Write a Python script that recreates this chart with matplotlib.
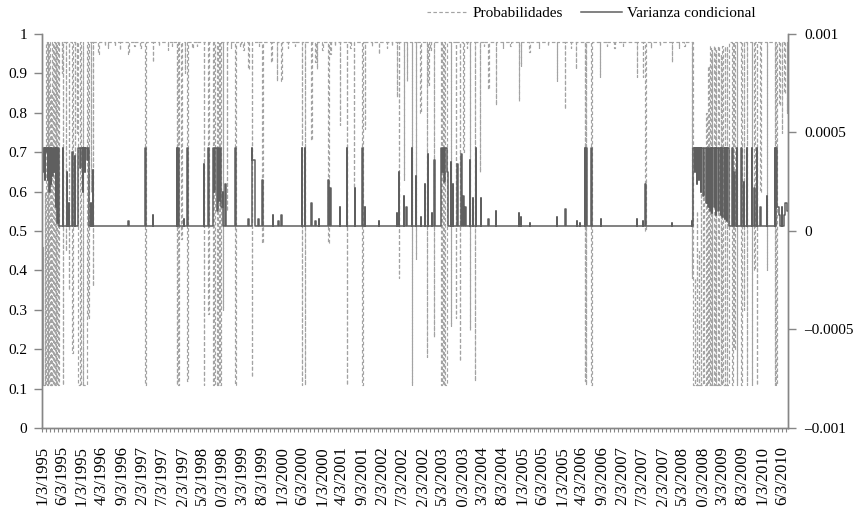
import matplotlib

matplotlib.use("Agg")
import matplotlib.dates as mdates
import pandas as pd
from matplotlib import pyplot as plt

# varianza base (regimen de baja volatilidad)
B = 2.6e-5

# probabilidad de estar en el regimen de baja volatilidad (cambios de nivel)
probabilidades = [
    ("1995-01-03", 0.11), ("1995-01-11", 0.46), ("1995-01-14", 0.11), ("1995-01-23", 0.60),
    ("1995-01-25", 0.11), ("1995-02-06", 0.98), ("1995-02-09", 0.11), ("1995-02-17", 0.98),
    ("1995-02-20", 0.11), ("1995-02-28", 0.98), ("1995-03-03", 0.11), ("1995-03-11", 0.85),
    ("1995-03-14", 0.11), ("1995-03-23", 0.98), ("1995-03-25", 0.11), ("1995-04-06", 0.98),
    ("1995-04-09", 0.11), ("1995-04-17", 0.98), ("1995-04-20", 0.11), ("1995-04-28", 0.98),
    ("1995-05-03", 0.11), ("1995-05-11", 0.98), ("1995-06-03", 0.90), ("1995-06-06", 0.98),
    ("1995-06-11", 0.11), ("1995-06-14", 0.98), ("1995-07-03", 0.45), ("1995-07-06", 0.98),
    ("1995-07-25", 0.35), ("1995-07-28", 0.98), ("1995-08-23", 0.19), ("1995-08-25", 0.98),
    ("1995-09-10", 0.55), ("1995-09-13", 0.98), ("1995-09-23", 0.75), ("1995-09-25", 0.98),
    ("1995-10-06", 0.11), ("1995-10-20", 0.98), ("1995-10-23", 0.11), ("1995-11-09", 0.98),
    ("1995-11-11", 0.11), ("1995-12-09", 0.98), ("1995-12-20", 0.28), ("1995-12-23", 0.98),
    ("1996-01-09", 0.60), ("1996-01-11", 0.98), ("1996-01-25", 0.36), ("1996-01-28", 0.98),
    ("1996-03-06", 0.95), ("1996-03-09", 0.98), ("1996-04-25", 0.97), ("1996-04-28", 0.98),
    ("1996-10-20", 0.95), ("1996-10-23", 0.98), ("1997-02-28", 0.11), ("1997-03-03", 0.98),
    ("1997-04-25", 0.93), ("1997-04-28", 0.98), ("1997-10-23", 0.11), ("1997-10-25", 0.98),
    ("1997-11-06", 0.11), ("1997-11-09", 0.98), ("1997-11-28", 0.48), ("1997-12-03", 0.98),
    ("1997-12-23", 0.90), ("1997-12-25", 0.98), ("1998-01-11", 0.12), ("1998-01-14", 0.98),
    ("1998-05-17", 0.11), ("1998-05-20", 0.98), ("1998-06-20", 0.29), ("1998-06-23", 0.98),
    ("1998-07-28", 0.11), ("1998-08-03", 0.98), ("1998-08-14", 0.11), ("1998-08-28", 0.98),
    ("1998-09-06", 0.11), ("1998-09-11", 0.98), ("1998-09-20", 0.11), ("1998-09-25", 0.98),
    ("1998-10-09", 0.30), ("1998-10-11", 0.98), ("1998-11-09", 0.55), ("1998-11-11", 0.98),
    ("1999-01-14", 0.11), ("1999-01-17", 0.98), ("1999-04-20", 0.91), ("1999-04-23", 0.98),
    ("1999-05-20", 0.13), ("1999-05-23", 0.98), ("1999-08-06", 0.47), ("1999-08-09", 0.98),
    ("1999-10-14", 0.93), ("1999-10-17", 0.98), ("1999-11-23", 0.88), ("1999-11-25", 0.98),
    ("1999-12-28", 0.88), ("2000-01-03", 0.98), ("2000-06-03", 0.11), ("2000-06-06", 0.98),
    ("2000-06-25", 0.11), ("2000-06-28", 0.98), ("2000-08-14", 0.73), ("2000-08-17", 0.98),
    ("2000-09-11", 0.93), ("2000-09-14", 0.98), ("2000-09-25", 0.91), ("2000-09-28", 0.98),
    ("2000-12-20", 0.47), ("2000-12-23", 0.98), ("2001-01-03", 0.95), ("2001-01-06", 0.98),
    ("2001-03-17", 0.77), ("2001-03-20", 0.98), ("2001-05-09", 0.11), ("2001-05-11", 0.98),
    ("2001-07-03", 0.61), ("2001-07-06", 0.98), ("2001-09-06", 0.11), ("2001-09-09", 0.98),
    ("2001-09-25", 0.76), ("2001-09-28", 0.98), ("2002-01-06", 0.95), ("2002-01-09", 0.98),
    ("2002-05-23", 0.84), ("2002-05-25", 0.98), ("2002-06-11", 0.38), ("2002-06-14", 0.98),
    ("2002-07-17", 0.63), ("2002-07-20", 0.98), ("2002-08-09", 0.88), ("2002-08-11", 0.98),
    ("2002-09-14", 0.11), ("2002-09-17", 0.98), ("2002-10-17", 0.43), ("2002-10-20", 0.98),
    ("2002-11-20", 0.80), ("2002-11-23", 0.98), ("2003-01-09", 0.18), ("2003-01-11", 0.98),
    ("2003-01-20", 0.87), ("2003-01-23", 0.98), ("2003-03-03", 0.23), ("2003-03-06", 0.98),
    ("2003-04-28", 0.11), ("2003-05-06", 0.98), ("2003-05-11", 0.11), ("2003-05-20", 0.98),
    ("2003-05-25", 0.11), ("2003-06-09", 0.98), ("2003-07-09", 0.26), ("2003-07-11", 0.98),
    ("2003-08-17", 0.28), ("2003-08-20", 0.98), ("2003-09-17", 0.17), ("2003-09-20", 0.98),
    ("2003-10-14", 0.70), ("2003-10-17", 0.98), ("2003-12-03", 0.25), ("2003-12-06", 0.98),
    ("2004-01-09", 0.12), ("2004-01-11", 0.98), ("2004-02-17", 0.65), ("2004-02-20", 0.98),
    ("2004-04-20", 0.86), ("2004-04-23", 0.98), ("2004-06-17", 0.82), ("2004-06-20", 0.98),
    ("2004-12-06", 0.83), ("2004-12-09", 0.98), ("2004-12-23", 0.92), ("2004-12-25", 0.98),
    ("2005-02-25", 0.955), ("2005-02-28", 0.98), ("2005-09-23", 0.88), ("2005-09-25", 0.98),
    ("2005-11-25", 0.81), ("2005-11-28", 0.98), ("2006-02-17", 0.91), ("2006-02-20", 0.98),
    ("2006-04-23", 0.12), ("2006-04-25", 0.98), ("2006-05-03", 0.11), ("2006-05-06", 0.98),
    ("2006-06-14", 0.11), ("2006-06-17", 0.98), ("2006-08-17", 0.89), ("2006-08-20", 0.98),
    ("2007-05-23", 0.89), ("2007-05-25", 0.98), ("2007-07-09", 0.89), ("2007-07-11", 0.98),
    ("2007-07-28", 0.50), ("2007-08-03", 0.98), ("2008-02-14", 0.93), ("2008-02-17", 0.98),
    ("2008-07-14", 0.38), ("2008-07-17", 0.98), ("2008-07-25", 0.11), ("2008-08-09", 0.38),
    ("2008-08-11", 0.11), ("2008-08-23", 0.55), ("2008-08-25", 0.11), ("2008-09-09", 0.45),
    ("2008-09-11", 0.11), ("2008-09-23", 0.62), ("2008-09-25", 0.11), ("2008-10-11", 0.70),
    ("2008-10-14", 0.11), ("2008-11-03", 0.80), ("2008-11-06", 0.11), ("2008-11-20", 0.92),
    ("2008-11-23", 0.11), ("2008-12-03", 0.97), ("2008-12-06", 0.11), ("2008-12-17", 0.96),
    ("2008-12-20", 0.11), ("2009-01-03", 0.97), ("2009-01-06", 0.11), ("2009-01-17", 0.96),
    ("2009-01-20", 0.11), ("2009-02-03", 0.97), ("2009-02-09", 0.11), ("2009-02-20", 0.95),
    ("2009-02-23", 0.11), ("2009-03-06", 0.97), ("2009-03-09", 0.11), ("2009-03-23", 0.97),
    ("2009-03-25", 0.11), ("2009-04-09", 0.97), ("2009-04-11", 0.11), ("2009-04-23", 0.98),
    ("2009-05-20", 0.11), ("2009-05-23", 0.98), ("2009-06-06", 0.20), ("2009-06-09", 0.98),
    ("2009-06-23", 0.11), ("2009-06-25", 0.98), ("2009-07-28", 0.11), ("2009-08-03", 0.98),
    ("2009-08-14", 0.30), ("2009-08-17", 0.98), ("2009-09-06", 0.11), ("2009-09-09", 0.98),
    ("2009-10-14", 0.11), ("2009-10-17", 0.98), ("2009-11-03", 0.40), ("2009-11-06", 0.98),
    ("2009-11-23", 0.11), ("2009-11-25", 0.98), ("2009-12-20", 0.60), ("2009-12-23", 0.98),
    ("2010-02-09", 0.40), ("2010-02-11", 0.98), ("2010-04-09", 0.11), ("2010-04-11", 0.98),
    ("2010-04-17", 0.11), ("2010-04-28", 0.98), ("2010-05-14", 0.82), ("2010-05-17", 0.98),
    ("2010-06-03", 0.75), ("2010-06-06", 0.98), ("2010-06-20", 0.85), ("2010-06-23", 0.98),
    ("2010-07-09", 0.80), ("2010-07-11", 0.98), ("2010-07-17", 0.98),
]

# pequenas caidas de la probabilidad cerca del techo
caidas_menores = [
    ("1996-05-20", 0.965), ("1996-05-22", 0.98), ("1996-07-10", 0.97), ("1996-07-12", 0.98),
    ("1996-08-15", 0.96), ("1996-08-17", 0.98), ("1996-12-05", 0.97), ("1996-12-07", 0.98),
    ("1997-01-20", 0.965), ("1997-01-22", 0.98), ("1997-06-10", 0.97), ("1997-06-12", 0.98),
    ("1997-08-20", 0.96), ("1997-08-22", 0.98), ("1997-09-15", 0.97), ("1997-09-17", 0.98),
    ("1998-02-20", 0.965), ("1998-02-22", 0.98), ("1998-03-25", 0.97), ("1998-03-27", 0.98),
    ("1998-12-10", 0.965), ("1998-12-12", 0.98), ("1999-02-20", 0.97), ("1999-02-22", 0.98),
    ("1999-03-15", 0.96), ("1999-03-17", 0.98), ("1999-07-10", 0.97), ("1999-07-12", 0.98),
    ("2000-02-15", 0.965), ("2000-02-17", 0.98), ("2000-04-10", 0.97), ("2000-04-12", 0.98),
    ("2000-11-05", 0.96), ("2000-11-07", 0.98), ("2001-02-10", 0.97), ("2001-02-12", 0.98),
    ("2001-06-05", 0.965), ("2001-06-07", 0.98), ("2001-11-15", 0.97), ("2001-11-17", 0.98),
    ("2002-03-10", 0.965), ("2002-03-12", 0.98), ("2002-04-15", 0.97), ("2002-04-17", 0.98),
    ("2003-02-05", 0.96), ("2003-02-07", 0.98), ("2003-11-10", 0.965), ("2003-11-12", 0.98),
    ("2004-03-15", 0.97), ("2004-03-17", 0.98), ("2004-08-10", 0.965), ("2004-08-12", 0.98),
    ("2004-10-05", 0.97), ("2004-10-07", 0.98), ("2005-05-10", 0.965), ("2005-05-12", 0.98),
    ("2005-07-15", 0.97), ("2005-07-17", 0.98), ("2006-01-10", 0.965), ("2006-01-12", 0.98),
    ("2006-10-10", 0.97), ("2006-10-12", 0.98), ("2006-12-05", 0.965), ("2006-12-07", 0.98),
    ("2007-02-10", 0.97), ("2007-02-12", 0.98), ("2007-09-10", 0.965), ("2007-09-12", 0.98),
    ("2007-11-15", 0.97), ("2007-11-17", 0.98), ("2008-04-10", 0.965), ("2008-04-12", 0.98),
    ("2008-05-20", 0.97), ("2008-05-22", 0.98),
]

# varianza condicional (cambios de nivel)
varianza = [
    ("1995-01-03", 4.2e-4), ("1995-01-14", 3.0e-4), ("1995-01-17", 4.2e-4), ("1995-01-25", 2.6e-4),
    ("1995-01-28", 4.2e-4), ("1995-02-06", 4.0e-4), ("1995-02-09", 4.2e-4), ("1995-02-17", 2.6e-4),
    ("1995-02-20", 4.2e-4), ("1995-02-28", 2.0e-4), ("1995-03-03", 4.2e-4), ("1995-03-11", 2.4e-4),
    ("1995-03-14", 4.2e-4), ("1995-03-23", 2.8e-4), ("1995-03-25", 4.2e-4), ("1995-04-06", 3.0e-4),
    ("1995-04-09", 4.2e-4), ("1995-04-17", 1.2e-4), ("1995-04-20", 4.2e-4), ("1995-04-28", 4.0e-5),
    ("1995-05-03", 4.2e-4), ("1995-05-11", B), ("1995-06-11", 4.2e-4), ("1995-06-14", B),
    ("1995-07-11", 3.0e-4), ("1995-07-14", B), ("1995-07-25", 1.4e-4), ("1995-07-28", B),
    ("1995-08-23", 4.0e-4), ("1995-08-25", B), ("1995-09-10", 3.8e-4), ("1995-09-13", B),
    ("1995-10-06", 4.2e-4), ("1995-10-20", 3.2e-4), ("1995-10-23", 4.2e-4), ("1995-11-09", 2.0e-4),
    ("1995-11-11", 4.2e-4), ("1995-11-25", 3.0e-4), ("1995-11-28", 4.2e-4), ("1995-12-09", 3.6e-4),
    ("1995-12-20", 4.2e-4), ("1995-12-23", B), ("1996-01-09", 1.4e-4), ("1996-01-11", B),
    ("1996-01-25", 3.1e-4), ("1996-01-28", B), ("1996-10-20", 5.0e-5), ("1996-10-23", B),
    ("1997-02-28", 4.2e-4), ("1997-03-03", B), ("1997-04-25", 8.0e-5), ("1997-04-28", B),
    ("1997-10-23", 4.2e-4), ("1997-10-25", B), ("1997-11-06", 4.2e-4), ("1997-11-09", B),
    ("1997-12-17", 6.0e-5), ("1997-12-20", B), ("1998-01-11", 4.2e-4), ("1998-01-14", B),
    ("1998-05-17", 3.4e-4), ("1998-05-20", B), ("1998-06-20", 4.2e-4), ("1998-06-23", B),
    ("1998-07-28", 4.2e-4), ("1998-08-03", 2.0e-4), ("1998-08-14", 4.2e-4), ("1998-08-28", 1.0e-4),
    ("1998-09-06", 4.2e-4), ("1998-09-11", 1.5e-4), ("1998-09-20", 4.2e-4), ("1998-09-25", 1.2e-4),
    ("1998-10-09", 2.0e-4), ("1998-10-11", B), ("1998-10-28", 2.4e-4), ("1998-11-03", B),
    ("1999-01-14", 4.2e-4), ("1999-01-17", B), ("1999-04-20", 6.0e-5), ("1999-04-23", B),
    ("1999-05-20", 4.2e-4), ("1999-05-23", 3.6e-4), ("1999-06-11", B), ("1999-07-06", 6.0e-5),
    ("1999-07-09", B), ("1999-08-06", 2.6e-4), ("1999-08-09", B), ("1999-10-25", 8.0e-5),
    ("1999-10-28", B), ("1999-12-06", 5.0e-5), ("1999-12-09", B), ("1999-12-28", 8.0e-5),
    ("2000-01-03", B), ("2000-06-03", 4.2e-4), ("2000-06-06", B), ("2000-06-25", 4.2e-4),
    ("2000-06-28", B), ("2000-08-14", 1.4e-4), ("2000-08-17", B), ("2000-09-11", 5.0e-5),
    ("2000-09-14", B), ("2000-10-11", 6.0e-5), ("2000-10-14", B), ("2000-12-20", 2.6e-4),
    ("2000-12-23", B), ("2001-01-03", 2.2e-4), ("2001-01-06", B), ("2001-03-17", 1.2e-4),
    ("2001-03-20", B), ("2001-05-09", 4.2e-4), ("2001-05-11", B), ("2001-07-09", 2.2e-4),
    ("2001-07-11", B), ("2001-09-06", 4.2e-4), ("2001-09-09", B), ("2001-09-25", 1.2e-4),
    ("2001-09-28", B), ("2002-01-09", 5.0e-5), ("2002-01-11", B), ("2002-05-23", 9.0e-5),
    ("2002-05-25", B), ("2002-06-11", 3.0e-4), ("2002-06-14", B), ("2002-07-17", 1.8e-4),
    ("2002-07-20", B), ("2002-08-06", 1.2e-4), ("2002-08-09", B), ("2002-09-14", 4.2e-4),
    ("2002-09-17", B), ("2002-10-17", 2.8e-4), ("2002-10-20", B), ("2002-11-23", 7.0e-5),
    ("2002-11-25", B), ("2002-12-24", 2.4e-4), ("2002-12-27", B), ("2003-01-14", 3.9e-4),
    ("2003-01-17", B), ("2003-02-14", 9.0e-5), ("2003-02-17", B), ("2003-03-06", 3.6e-4),
    ("2003-03-09", B), ("2003-04-28", 4.2e-4), ("2003-05-06", 3.0e-4), ("2003-05-11", 4.2e-4),
    ("2003-05-20", 2.5e-4), ("2003-05-25", 4.2e-4), ("2003-06-09", 3.0e-4), ("2003-06-20", B),
    ("2003-07-09", 3.5e-4), ("2003-07-11", B), ("2003-07-25", 2.4e-4), ("2003-07-28", B),
    ("2003-08-28", 3.4e-4), ("2003-09-03", B), ("2003-09-28", 3.9e-4), ("2003-10-03", B),
    ("2003-10-14", 1.8e-4), ("2003-10-17", B), ("2003-10-28", 1.2e-4), ("2003-11-03", B),
    ("2003-12-03", 3.6e-4), ("2003-12-06", B), ("2003-12-23", 1.7e-4), ("2003-12-25", B),
    ("2004-01-17", 4.2e-4), ("2004-01-20", B), ("2004-02-24", 1.7e-4), ("2004-02-27", B),
    ("2004-04-20", 6.0e-5), ("2004-04-23", B), ("2004-06-17", 1.0e-4), ("2004-06-20", B),
    ("2004-12-06", 9.0e-5), ("2004-12-09", B), ("2004-12-25", 7.0e-5), ("2004-12-28", B),
    ("2005-03-03", 4.0e-5), ("2005-03-06", B), ("2005-09-23", 7.0e-5), ("2005-09-25", B),
    ("2005-11-28", 1.1e-4), ("2005-12-03", B), ("2006-02-23", 5.0e-5), ("2006-02-25", B),
    ("2006-03-17", 4.0e-5), ("2006-03-20", B), ("2006-04-24", 4.2e-4), ("2006-04-27", B),
    ("2006-05-06", 4.2e-4), ("2006-05-09", B), ("2006-06-14", 4.2e-4), ("2006-06-17", B),
    ("2006-08-23", 6.0e-5), ("2006-08-25", B), ("2007-05-25", 6.0e-5), ("2007-05-28", B),
    ("2007-07-11", 5.0e-5), ("2007-07-14", B), ("2007-07-28", 2.4e-4), ("2007-08-03", B),
    ("2008-02-14", 4.0e-5), ("2008-02-17", B), ("2008-07-17", 5.0e-5), ("2008-07-20", B),
    ("2008-07-25", 4.2e-4), ("2008-08-09", 3.0e-4), ("2008-08-11", 4.2e-4), ("2008-08-23", 2.4e-4),
    ("2008-08-25", 4.2e-4), ("2008-09-09", 2.6e-4), ("2008-09-11", 4.2e-4), ("2008-09-23", 2.0e-4),
    ("2008-09-25", 4.2e-4), ("2008-10-11", 1.8e-4), ("2008-10-14", 4.2e-4), ("2008-11-03", 1.4e-4),
    ("2008-11-06", 4.2e-4), ("2008-11-20", 1.2e-4), ("2008-11-23", 4.2e-4), ("2008-12-03", 1.0e-4),
    ("2008-12-06", 4.2e-4), ("2008-12-17", 9.0e-5), ("2008-12-20", 4.2e-4), ("2009-01-03", 1.2e-4),
    ("2009-01-06", 4.2e-4), ("2009-01-17", 8.0e-5), ("2009-01-20", 4.2e-4), ("2009-02-03", 1.0e-4),
    ("2009-02-09", 4.2e-4), ("2009-02-20", 8.0e-5), ("2009-02-23", 4.2e-4), ("2009-03-06", 7.0e-5),
    ("2009-03-09", 4.2e-4), ("2009-03-23", 6.0e-5), ("2009-03-25", 4.2e-4), ("2009-04-09", 5.0e-5),
    ("2009-04-11", 4.2e-4), ("2009-04-23", B), ("2009-05-20", 4.2e-4), ("2009-05-23", B),
    ("2009-06-06", 3.0e-4), ("2009-06-09", B), ("2009-06-23", 4.2e-4), ("2009-06-25", B),
    ("2009-07-28", 4.2e-4), ("2009-08-03", B), ("2009-08-14", 2.5e-4), ("2009-08-17", B),
    ("2009-09-06", 4.2e-4), ("2009-09-09", B), ("2009-10-14", 4.2e-4), ("2009-10-17", B),
    ("2009-11-03", 2.2e-4), ("2009-11-06", B), ("2009-11-23", 4.2e-4), ("2009-11-25", B),
    ("2009-12-20", 1.2e-4), ("2009-12-23", B), ("2010-02-09", 1.8e-4), ("2010-02-11", B),
    ("2010-04-09", 4.2e-4), ("2010-04-11", B), ("2010-04-17", 4.2e-4), ("2010-04-28", 1.2e-4),
    ("2010-05-14", 8.0e-5), ("2010-05-17", B), ("2010-06-03", 1.2e-4), ("2010-06-06", B),
    ("2010-06-20", 8.0e-5), ("2010-06-23", 1.4e-4), ("2010-07-09", 1.0e-4), ("2010-07-17", 1.0e-4),
]

etiquetas_x = [
    "1/3/1995", "6/3/1995", "11/3/1995", "4/3/1996", "9/3/1996", "2/3/1997", "7/3/1997",
    "12/3/1997", "5/3/1998", "10/3/1998", "3/3/1999", "8/3/1999", "1/3/2000", "6/3/2000",
    "11/3/2000", "4/3/2001", "9/3/2001", "2/3/2002", "7/3/2002", "12/3/2002", "5/3/2003",
    "10/3/2003", "3/3/2004", "8/3/2004", "1/3/2005", "6/3/2005", "11/3/2005", "4/3/2006",
    "9/3/2006", "2/3/2007", "7/3/2007", "12/3/2007", "5/3/2008", "10/3/2008", "3/3/2009",
    "8/3/2009", "1/3/2010", "6/3/2010",
]
ticks_izq = [0, 0.1, 0.2, 0.3, 0.4, 0.5, 0.6, 0.7, 0.8, 0.9, 1]
etiquetas_izq = ["0", "0.1", "0.2", "0.3", "0.4", "0.5", "0.6", "0.7", "0.8", "0.9", "1"]
ticks_der = [-0.001, -0.0005, 0, 0.0005, 0.001]
etiquetas_der = ["\u20130.001", "\u20130.0005", "0", "0.0005", "0.001"]

plt.rcParams["font.family"] = ["Liberation Serif", "DejaVu Serif"]
plt.rcParams["font.size"] = 11

GRIS_EJE = "#868686"

fig = plt.figure(figsize=(8.6, 5.07), dpi=100)
ax = fig.add_axes((42 / 860, 79 / 507, 746 / 860, 394 / 507))
ax2 = ax.twinx()

prob = sorted(probabilidades + caidas_menores)
p_x = pd.to_datetime([d for d, _ in prob])
p_y = [v for _, v in prob]
v_x = pd.to_datetime([d for d, _ in varianza])
v_y = [v for _, v in varianza]

(l_prob,) = ax.plot(p_x, p_y, drawstyle="steps-post", color="#a3a3a3",
                    lw=0.85, linestyle=(0, (3, 2)), label="Probabilidades")
(l_var,) = ax2.plot(v_x, v_y, drawstyle="steps-post", color="#5f5f5f",
                    lw=1.1, label="Varianza condicional")

ax.set_xlim(pd.Timestamp("1995-01-03"), pd.Timestamp("2010-07-18"))
ax.set_ylim(0, 1)
ax2.set_ylim(-0.001, 0.001)

ax.set_yticks(ticks_izq, etiquetas_izq)
ax2.set_yticks(ticks_der, etiquetas_der)
ax.set_xticks(pd.to_datetime(etiquetas_x, format="%m/%d/%Y"), etiquetas_x,
              rotation=90, fontsize=12)
ax.xaxis.set_minor_locator(mdates.MonthLocator(bymonthday=3))

for a in (ax, ax2):
    for sp in a.spines.values():
        sp.set_color(GRIS_EJE)
        sp.set_linewidth(1.0)
    a.spines["top"].set_visible(False)
ax.tick_params(axis="y", direction="out", length=5.5, width=1, color=GRIS_EJE, pad=5)
ax2.tick_params(axis="y", direction="out", length=5.5, width=1, color=GRIS_EJE, pad=6)
ax.tick_params(axis="x", which="both", direction="out", length=3, width=0.8,
               color=GRIS_EJE, pad=10)

fig.legend(handles=[l_prob, l_var], loc="center", bbox_to_anchor=(591 / 860, 1 - 13 / 507),
           ncol=2, frameon=False, handlelength=2.7, handletextpad=0.3,
           columnspacing=1.2, fontsize=11)

fig.savefig("out.png", dpi=100)
